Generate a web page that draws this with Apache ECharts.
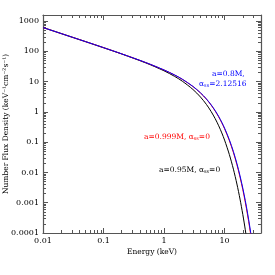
<!DOCTYPE html>
<html>
<head>
<meta charset="utf-8">
<script src="https://cdn.jsdelivr.net/npm/echarts@6/dist/echarts.min.js"></script>
<style>html,body{margin:0;padding:0;background:#fff}#c{width:275px;height:275px}</style>
</head>
<body>
<div id="c"></div>
<script>
// Energy grid (keV)
var energy = [0.01, 0.02, 0.05, 0.1, 0.2, 0.5, 1, 1.5, 2, 3, 4, 5, 6, 7, 8, 9, 10, 12, 14, 16, 18, 20, 22, 24, 26, 28, 30];
// a=0.95M, alpha_ss=0 (black)
var fluxBlack = [610, 385, 209.5, 131.4, 81.4, 41.3, 22.7, 14.8, 10.34, 5.50, 3.09, 1.77, 1.025, 0.596, 0.347, 0.202, 0.117, 0.0390, 0.0128, 0.00414, 0.00132, 0.000412, 0.000128, 0.0000383, 0.000012, 0.0000035, 0.000001];
// a=0.999M, alpha_ss=0 (red)
var fluxRed = [610, 385, 210, 132, 82.2, 42.4, 24.1, 16.45, 11.9, 6.87, 4.20, 2.64, 1.67, 1.062, 0.680, 0.434, 0.277, 0.113, 0.0454, 0.0180, 0.00702, 0.00272, 0.00104, 0.000392, 0.000147, 0.0000537, 0.0000195];
// a=0.8M, alpha_ss=2.12516 (blue)
var fluxBlue = [610, 385, 210, 132, 82.2, 42.5, 24.2, 16.5, 12.0, 6.95, 4.27, 2.69, 1.71, 1.096, 0.705, 0.453, 0.291, 0.120, 0.0488, 0.0196, 0.00775, 0.00304, 0.00118, 0.000451, 0.000171, 0.0000635, 0.0000235];

var xMajor = [0.01, 0.1, 1, 10];
var yMajor = [0.0001, 0.001, 0.01, 0.1, 1, 10, 100, 1000];
var xRange = [0.01, 40];
var yRange = [0.0001, 1580];

function minors(majors, lo, hi) {
  var out = [];
  majors.forEach(function (d) {
    for (var k = 2; k <= 9; k++) { var v = +(d * k).toPrecision(6); if (v > lo && v < hi) out.push(v); }
  });
  return out;
}
var xMinor = minors(xMajor, xRange[0], xRange[1]);
var yMinor = minors(yMajor, yRange[0], yRange[1]);

var FONT = 'DejaVu Serif';
var AX = '#555';
function fmt(v) { return String(+(+v).toPrecision(6)); }

function xAx(pos, ticks, len, showLabel, showLine) {
  return {
    type: 'log', logBase: 10, min: xRange[0], max: xRange[1], position: pos, gridIndex: 0,
    name: (pos === 'bottom' && showLabel) ? 'Energy (keV)' : '',
    nameLocation: 'middle', nameGap: 15, nameMoveOverlap: false,
    nameTextStyle: { fontFamily: FONT, fontSize: 7.5, color: '#000' },
    axisLine: { show: showLine, onZero: false, lineStyle: { color: AX, width: 1.2 } },
    axisTick: { show: true, inside: true, length: len, customValues: ticks, lineStyle: { color: AX, width: 1 } },
    minorTick: { show: false },
    axisLabel: { show: showLabel, customValues: xMajor, formatter: fmt, margin: 4, fontFamily: FONT, fontSize: 8, color: '#000' },
    splitLine: { show: false }
  };
}
function yAx(pos, ticks, len, showLabel, showLine) {
  return {
    type: 'log', logBase: 10, min: yRange[0], max: yRange[1], position: pos, gridIndex: 0,
    name: (pos === 'left' && showLabel) ? 'Number Flux Density (keV\u207B\u00B9cm\u207B\u00B2s\u207B\u00B9)' : '',
    nameLocation: 'middle', nameGap: 33, nameRotate: 90, nameMoveOverlap: false,
    nameTextStyle: { fontFamily: FONT, fontSize: 7.5, color: '#000' },
    axisLine: { show: showLine, onZero: false, lineStyle: { color: AX, width: 1.2 } },
    axisTick: { show: true, inside: true, length: len, customValues: ticks, lineStyle: { color: AX, width: 1 } },
    minorTick: { show: false },
    axisLabel: { show: showLabel, customValues: yMajor, formatter: fmt, margin: 4, fontFamily: FONT, fontSize: 8, color: '#000' },
    splitLine: { show: false }
  };
}

function pairs(ys) { return energy.map(function (e, i) { return [e, ys[i]]; }); }
function ser(name, ys, color) {
  return { name: name, type: 'line', xAxisIndex: 0, yAxisIndex: 0, data: pairs(ys), showSymbol: false,
    smooth: 0.3, clip: true, lineStyle: { color: color, width: 1 }, itemStyle: { color: color }, silent: true, animation: false };
}

var chart = echarts.init(document.getElementById('c'), null, { renderer: 'canvas' });
chart.setOption({
  animation: false,
  backgroundColor: '#fff',
  grid: { left: 43, top: 15, right: 14, bottom: 42, containLabel: false, outerBoundsMode: 'none' },
  xAxis: [
    xAx('bottom', xMajor, 5, true, true),
    xAx('bottom', xMinor, 3, false, false),
    xAx('top', xMajor, 5, false, true),
    xAx('top', xMinor, 3, false, false)
  ],
  yAxis: [
    yAx('left', yMajor, 5, true, true),
    yAx('left', yMinor, 3, false, false),
    yAx('right', yMajor, 5, false, true),
    yAx('right', yMinor, 3, false, false)
  ],
  series: [
    ser('a=0.95M', fluxBlack, '#000000'),
    ser('a=0.999M', fluxRed, '#ff0000'),
    ser('a=0.8M', fluxBlue, '#0000ff')
  ],
  graphic: [
    { type: 'text', left: 212, top: 70, style: { text: 'a=0.8M,', font: '7.5px "DejaVu Serif"', fill: '#0000ff' } },
    { type: 'text', left: 199, top: 80, style: { rich: { n: { fontFamily: FONT, fontSize: 7.5, fill: '#0000ff' }, s: { fontFamily: FONT, fontSize: 5, fill: '#0000ff', padding: [4, 0, 0, 0] } },
      text: '{n|\u03B1}{s|ss}{n|=2.12516}' } },
    { type: 'text', left: 144, top: 133, style: { rich: { n: { fontFamily: FONT, fontSize: 7.5, fill: '#ff0000' }, s: { fontFamily: FONT, fontSize: 5, fill: '#ff0000', padding: [4, 0, 0, 0] } },
      text: '{n|a=0.999M, \u03B1}{s|ss}{n|=0}' } },
    { type: 'text', left: 159, top: 166, style: { rich: { n: { fontFamily: FONT, fontSize: 7.5, fill: '#000' }, s: { fontFamily: FONT, fontSize: 5, fill: '#000', padding: [4, 0, 0, 0] } },
      text: '{n|a=0.95M, \u03B1}{s|ss}{n|=0}' } }
  ]
});
</script>
</body>
</html>
